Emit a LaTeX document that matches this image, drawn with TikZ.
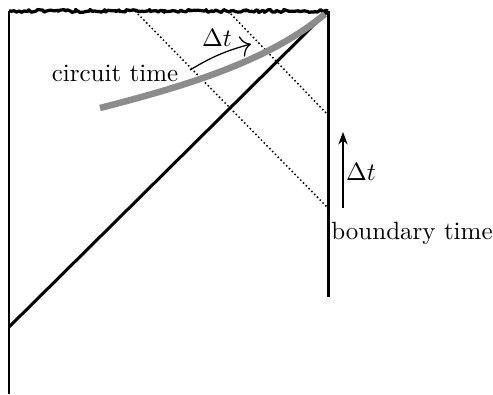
\documentclass[tikz,border=0pt]{standalone}
\usepackage{amsmath}
\usetikzlibrary{decorations.pathmorphing,arrows.meta,calc}
\tikzset{
  wall/.style={line width=1.2pt},
  lightray/.style={densely dotted,line width=0.6pt},
  singular/.style={line width=1.3pt,line join=round,decorate,decoration={random steps,segment length=0.8pt,amplitude=0.6pt}},
  slice/.style={line width=2.6pt,color=black!45},
}
\begin{document}
\begin{tikzpicture}[x=0.4pt,y=-0.4pt]
\useasboundingbox (0,0) rectangle (493,394);

% corners of the diagram
\coordinate (topL) at (9,11);
\coordinate (topR) at (328,11);
\coordinate (botL) at (9,394);
\coordinate (botR) at (328,297);
\coordinate (horL) at (9,327);

% singularity and walls
\draw [singular] (topL) -- (topR);
\draw [line width=0.6pt] (topL) -- (botL);
\draw [wall] (topR) -- (botR);
\draw [wall] (topR) -- (horL);

% light rays from the boundary
\coordinate (rayA) at (135,11);
\coordinate (rayB) at (328,208);
\coordinate (rayC) at (228,11);
\coordinate (rayD) at (328,115);
\draw [lightray] (rayA) -- (rayB);
\draw [lightray] (rayC) -- (rayD);

% circuit time slice
\coordinate (sliceL) at (100,108);
\coordinate (sliceR) at (325,14);
\draw [slice] (sliceL) .. controls (190,85) and (270,60) .. (sliceR);

% labels
\node (circ) at (115,73) {circuit time};
\coordinate (circA) at (190,70);
\coordinate (circB) at (251,44);
\draw [-{To[length=4pt]}, line width=0.5pt] (circA) to[bend left=8] (circB);
\node (dtc) at (217,38) {$\Delta t$};

\coordinate (bndA) at (343,208);
\coordinate (bndB) at (343,132);
\draw [-{Stealth[length=5pt]}, line width=0.5pt] (bndA) -- (bndB);
\node (dtb) at (361,172) {$\Delta t$};
\node (bnd) at (412,233) {boundary time};
\end{tikzpicture}
\end{document}
